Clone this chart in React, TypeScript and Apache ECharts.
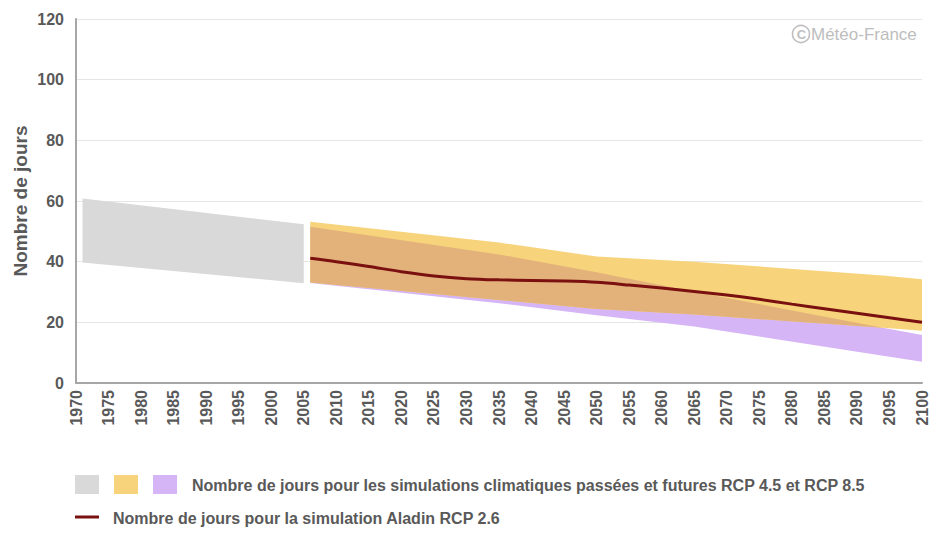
import React, { useEffect, useRef } from "react";
import * as echarts from "echarts";

// Historical simulation band (grey)
const histYears = [1971, 2005];
const histTop = [60.8, 52.3];
const histBottom = [39.7, 32.9];

// Future bands
const bandYears = [2006, 2035, 2050, 2065, 2094, 2100];
const rcp45Top = [53.2, 46.3, 41.7, 40.0, 35.4, 34.2];
const rcp45Bottom = [33.1, 27.4, 24.4, 22.6, 18.2, 17.2];
const rcp85Top = [51.5, 42.4, 36.5, 30.1, 18.2, 15.8];
const rcp85Bottom = [33.0, 26.3, 22.3, 18.6, 9.0, 7.0];

// Aladin RCP 2.6
const aladinYears = [2006, 2010, 2015, 2020, 2025, 2030, 2035, 2040, 2045, 2050, 2055, 2060, 2065, 2070, 2075, 2080, 2085, 2090, 2095, 2100];
const aladinValues = [41.1, 40.0, 38.4, 36.7, 35.3, 34.4, 34.0, 33.8, 33.6, 33.2, 32.3, 31.3, 30.2, 29.0, 27.6, 26.0, 24.5, 23.0, 21.5, 20.0];

const yTicks = [0, 20, 40, 60, 80, 100, 120];

const legendBands = "Nombre de jours pour les simulations climatiques passées et futures RCP 4.5 et RCP 8.5";
const legendLine = "Nombre de jours pour la simulation Aladin RCP 2.6";
const yTitle = "Nombre de jours";
const credit = "Météo-France";

const GREY = "#d9d9d9";
const YELLOW = "#f7d47c";
const PURPLE = "#d6b5f6";
const OVERLAP = "#e3b27b";
const LINE = "#7a1010";
const TEXT = "#595959";

function bandSeries(name: string, years: number[], top: number[], bottom: number[], color: string, z: number) {
  return {
    type: "custom",
    name,
    silent: true,
    z,
    clip: true,
    data: [[years[0], top[0]]],
    renderItem: (_params: any, api: any) => {
      const upper = years.map((y, i) => api.coord([y, top[i]]));
      const lower = years.map((y, i) => api.coord([y, bottom[i]])).reverse();
      return {
        type: "polygon",
        shape: { points: upper.concat(lower) },
        style: { fill: color, stroke: null },
      };
    },
  };
}

export default function App() {
  const ref = useRef<HTMLDivElement>(null);
  useEffect(() => {
    if (!ref.current) return;
    const chart = echarts.init(ref.current, null, { renderer: "svg" });

    const overlapTop = bandYears.map((_, i) => {
      const up = Math.min(rcp45Top[i], rcp85Top[i]);
      const lo = Math.max(rcp45Bottom[i], rcp85Bottom[i]);
      return Math.max(up, lo);
    });
    const overlapBottom = bandYears.map((_, i) => Math.max(rcp45Bottom[i], rcp85Bottom[i]));

    const font = "'Liberation Sans', Arial, sans-serif";

    chart.setOption({
      animation: false,
      backgroundColor: "#ffffff",
      textStyle: { fontFamily: font },
      grid: { left: 76, right: 14, top: 19, bottom: 150 },
      xAxis: {
        type: "value",
        min: 1970,
        max: 2100,
        interval: 5,
        axisLine: { show: true, onZero: false, lineStyle: { color: "#a6a6a6", width: 2 } },
        axisTick: { show: false },
        splitLine: { show: false },
        axisLabel: {
          rotate: 90,
          fontSize: 16,
          fontWeight: "bold",
          color: TEXT,
          margin: 7,
          formatter: (v: number) => String(v),
        },
      },
      yAxis: {
        type: "value",
        min: yTicks[0],
        max: yTicks[yTicks.length - 1],
        interval: 20,
        axisLine: { show: true, lineStyle: { color: "#a6a6a6", width: 2 } },
        axisTick: { show: false },
        splitLine: { show: true, lineStyle: { color: "#e6e6e6", width: 1 } },
        axisLabel: { fontSize: 16, fontWeight: "bold", color: TEXT, margin: 12 },
      },
      series: [
        bandSeries("Historique", histYears, histTop, histBottom, GREY, 2),
        bandSeries("RCP 8.5", bandYears, rcp85Top, rcp85Bottom, PURPLE, 3),
        bandSeries("RCP 4.5", bandYears, rcp45Top, rcp45Bottom, YELLOW, 4),
        bandSeries("Recouvrement", bandYears, overlapTop, overlapBottom, OVERLAP, 5),
        {
          type: "line",
          name: "Aladin RCP 2.6",
          z: 6,
          smooth: 0.3,
          symbol: "none",
          lineStyle: { color: LINE, width: 3 },
          data: aladinYears.map((y, i) => [y, aladinValues[i]]),
        },
      ],
      graphic: [
        {
          type: "text",
          x: 20,
          y: 201,
          rotation: Math.PI / 2,
          style: {
            text: yTitle,
            fontSize: 19,
            fontWeight: "bold",
            fill: TEXT,
            fontFamily: font,
            align: "center",
            verticalAlign: "middle",
          },
        },
        {
          type: "circle",
          shape: { cx: 801, cy: 34, r: 8.5 },
          style: { fill: "none", stroke: "#c0c0c0", lineWidth: 1.6 },
        },
        {
          type: "text",
          x: 801.5,
          y: 34.5,
          style: {
            text: "C",
            fontSize: 13,
            fontWeight: "bold",
            fill: "#c0c0c0",
            fontFamily: font,
            align: "center",
            verticalAlign: "middle",
          },
        },
        {
          type: "text",
          x: 811,
          y: 34,
          style: {
            text: credit,
            fontSize: 17,
            fill: "#bdbdbd",
            fontFamily: font,
            align: "left",
            verticalAlign: "middle",
          },
        },
        { type: "rect", shape: { x: 75, y: 475, width: 24, height: 19 }, style: { fill: GREY } },
        { type: "rect", shape: { x: 114, y: 475, width: 24, height: 19 }, style: { fill: YELLOW } },
        { type: "rect", shape: { x: 153, y: 475, width: 24, height: 19 }, style: { fill: PURPLE } },
        {
          type: "text",
          x: 192,
          y: 485,
          style: {
            text: legendBands,
            fontSize: 16,
            fontWeight: "bold",
            fill: TEXT,
            fontFamily: font,
            align: "left",
            verticalAlign: "middle",
          },
        },
        {
          type: "line",
          shape: { x1: 75, y1: 517, x2: 99, y2: 517 },
          style: { stroke: LINE, lineWidth: 3 },
        },
        {
          type: "text",
          x: 113,
          y: 518,
          style: {
            text: legendLine,
            fontSize: 16,
            fontWeight: "bold",
            fill: TEXT,
            fontFamily: font,
            align: "left",
            verticalAlign: "middle",
          },
        },
      ],
    });
    return () => chart.dispose();
  }, []);

  return (
    <div
      ref={ref}
      style={{ position: "fixed", left: 0, top: 0, width: 936, height: 533, background: "#fff" }}
    />
  );
}
